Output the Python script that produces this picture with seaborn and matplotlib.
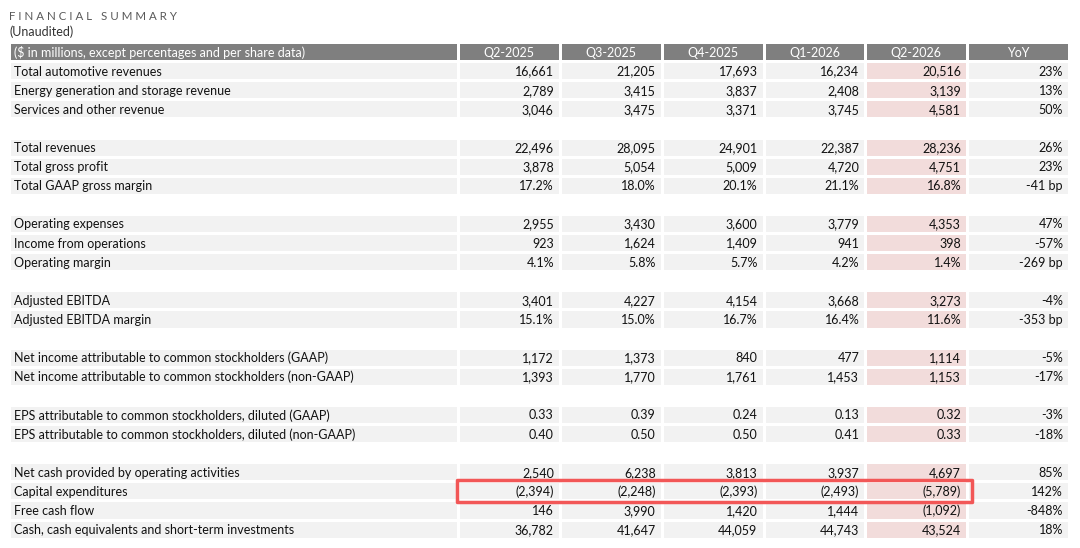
import numpy as np
import matplotlib
matplotlib.use("Agg")
import matplotlib.pyplot as plt
from matplotlib.colors import ListedColormap
from matplotlib.patches import Rectangle
import seaborn as sns

# ---- data ("" = spacer row) ----
header_label = "($ in millions, except percentages and per share data)"
quarters = ["Q2-2025", "Q3-2025", "Q4-2025", "Q1-2026", "Q2-2026", "YoY"]

row_labels = [
    "Total automotive revenues",
    "Energy generation and storage revenue",
    "Services and other revenue",
    "",
    "Total revenues",
    "Total gross profit",
    "Total GAAP gross margin",
    "",
    "Operating expenses",
    "Income from operations",
    "Operating margin",
    "",
    "Adjusted EBITDA",
    "Adjusted EBITDA margin",
    "",
    "Net income attributable to common stockholders (GAAP)",
    "Net income attributable to common stockholders (non-GAAP)",
    "",
    "EPS attributable to common stockholders, diluted (GAAP)",
    "EPS attributable to common stockholders, diluted (non-GAAP)",
    "",
    "Net cash provided by operating activities",
    "Capital expenditures",
    "Free cash flow",
    "Cash, cash equivalents and short-term investments",
]

q2_2025 = ["16,661", "2,789", "3,046", "", "22,496", "3,878", "17.2%", "",
           "2,955", "923", "4.1%", "", "3,401", "15.1%", "", "1,172", "1,393", "",
           "0.33", "0.40", "", "2,540", "(2,394)", "146", "36,782"]
q3_2025 = ["21,205", "3,415", "3,475", "", "28,095", "5,054", "18.0%", "",
           "3,430", "1,624", "5.8%", "", "4,227", "15.0%", "", "1,373", "1,770", "",
           "0.39", "0.50", "", "6,238", "(2,248)", "3,990", "41,647"]
q4_2025 = ["17,693", "3,837", "3,371", "", "24,901", "5,009", "20.1%", "",
           "3,600", "1,409", "5.7%", "", "4,154", "16.7%", "", "840", "1,761", "",
           "0.24", "0.50", "", "3,813", "(2,393)", "1,420", "44,059"]
q1_2026 = ["16,234", "2,408", "3,745", "", "22,387", "4,720", "21.1%", "",
           "3,779", "941", "4.2%", "", "3,668", "16.4%", "", "477", "1,453", "",
           "0.13", "0.41", "", "3,937", "(2,493)", "1,444", "44,743"]
q2_2026 = ["20,516", "3,139", "4,581", "", "28,236", "4,751", "16.8%", "",
           "4,353", "398", "1.4%", "", "3,273", "11.6%", "", "1,114", "1,153", "",
           "0.32", "0.33", "", "4,697", "(5,789)", "(1,092)", "43,524"]
yoy = ["23%", "13%", "50%", "", "26%", "23%", "-41 bp", "",
       "47%", "-57%", "-269 bp", "", "-4%", "-353 bp", "", "-5%", "-17%", "",
       "-3%", "-18%", "", "85%", "142%", "-848%", "18%"]

highlight_row = "Capital expenditures"
current_col = "Q2-2026"

columns = [q2_2025, q3_2025, q4_2025, q1_2026, q2_2026, yoy]

# ---- background codes: 0 white, 1 light grey, 2 pink, 3 header grey ----
n_rows = len(row_labels) + 1
n_cols = len(quarters)
is_data = np.array([lab != "" for lab in row_labels])

lab_codes = np.zeros((n_rows, 1))
lab_codes[0, 0] = 3
lab_codes[1:, 0] = np.where(is_data, 1, 0)

num_codes = np.zeros((n_rows, n_cols))
num_codes[0, :] = 3
cur = quarters.index(current_col)
for j in range(n_cols):
    fill = 2 if j == cur else 1
    num_codes[1:, j] = np.where(is_data, fill, 0)

cmap = ListedColormap(["#ffffff", "#f2f2f2", "#f2dcdb", "#7f7f7f"])

plt.rcParams['font.family'] = ['Lato', 'DejaVu Sans']
fs = 9.0
txt = "#111111"

W, H = 1080, 548
fig = plt.figure(figsize=(W / 100, H / 100), dpi=100)

top, bottom = 42.0, 538.6
x0, x1, x2 = 9, 458, 1069
ax_lab = fig.add_axes([x0 / W, (H - bottom) / H, (x1 - x0) / W, (bottom - top) / H])
ax_num = fig.add_axes([x1 / W, (H - bottom) / H, (x2 - x1) / W, (bottom - top) / H])

sns.heatmap(lab_codes, ax=ax_lab, cmap=cmap, vmin=-0.5, vmax=3.5, cbar=False,
            linewidths=0.9, linecolor="white", xticklabels=False, yticklabels=False)
sns.heatmap(num_codes, ax=ax_num, cmap=cmap, vmin=-0.5, vmax=3.5, cbar=False,
            linewidths=0.9, linecolor="white", xticklabels=False, yticklabels=False)

# px -> data units for padding
lab_w = x1 - x0
col_w = (x2 - x1) / n_cols

ax_lab.text(5 / lab_w, 0.55, header_label, color="white", fontsize=fs,
            ha="left", va="center")
for i, lab in enumerate(row_labels):
    if lab:
        ax_lab.text(5 / lab_w, i + 1.55, lab, color=txt, fontsize=fs,
                    ha="left", va="center")

for j, q in enumerate(quarters):
    ax_num.text(j + 0.5, 0.55, q, color="white", fontsize=fs, ha="center", va="center")
    for i, v in enumerate(columns[j]):
        if v:
            ax_num.text(j + 1 - 6 / col_w, i + 1.55, v, color=txt, fontsize=fs,
                        ha="right", va="center")

# red box around capex row
r = row_labels.index(highlight_row) + 1
ax_num.add_patch(Rectangle((-0.01, r - 0.06), cur + 1.06, 1.16, fill=False,
                           edgecolor="#f25757", linewidth=2.5, clip_on=False,
                           joinstyle="round", zorder=5))

fig.text(x0 / W, 1 - 16 / H, "F I N A N C I A L   S U M M A R Y", color="#595959",
         fontsize=8.3, ha="left", va="center")
fig.text(x0 / W, 1 - 32 / H, "(Unaudited)", color="#333333", fontsize=fs,
         ha="left", va="center")

fig.savefig("out.png", dpi=100)
